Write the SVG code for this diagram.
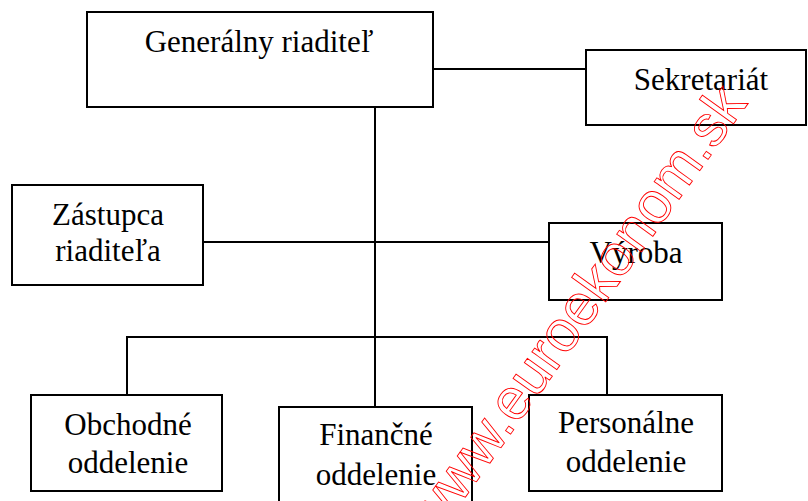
<svg xmlns="http://www.w3.org/2000/svg" width="808" height="501" viewBox="0 0 808 501">
<style>
.box{fill:#fff;stroke:#000;stroke-width:2}
.lbl{font-family:"Liberation Serif","Times New Roman",serif;font-size:31px;fill:#000;text-anchor:middle}
.ln{stroke:#000;stroke-width:2;fill:none}
.wm{font-family:"Liberation Sans",Arial,sans-serif;font-size:58px;fill:none;stroke:#f00;stroke-width:0.9}
</style>
<rect width="808" height="501" fill="#fff"/>
<g id="connectors">
<line class="ln" x1="433" y1="69" x2="586" y2="69"/>
<line class="ln" x1="375" y1="107" x2="375" y2="407"/>
<line class="ln" x1="203" y1="242" x2="549" y2="242"/>
<polyline class="ln" points="127,395 127,337 607,337 607,395"/>
</g>
<g id="generalny">
<rect class="box" x="87" y="12" width="346" height="95"/>
<text class="lbl" x="259" y="52">Generálny riaditeľ</text>
</g>
<g id="sekretariat">
<rect class="box" x="586" y="50" width="220" height="75"/>
<text class="lbl" x="701" y="90">Sekretariát</text>
</g>
<g id="zastupca">
<rect class="box" x="12" y="185" width="191" height="100"/>
<text class="lbl" x="108" y="225">Zástupca</text>
<text class="lbl" x="108" y="261">riaditeľa</text>
</g>
<g id="vyroba">
<rect class="box" x="549" y="223" width="173" height="77"/>
<text class="lbl" x="636" y="263">Výroba</text>
</g>
<g id="obchodne">
<rect class="box" x="31" y="395" width="191" height="96"/>
<text class="lbl" x="128" y="435">Obchodné</text>
<text class="lbl" x="128" y="473">oddelenie</text>
</g>
<g id="financne">
<rect class="box" x="279" y="407" width="193" height="100"/>
<text class="lbl" x="376" y="445">Finančné</text>
<text class="lbl" x="376" y="485">oddelenie</text>
</g>
<g id="personalne">
<rect class="box" x="529" y="395" width="193" height="96"/>
<text class="lbl" x="626" y="433">Personálne</text>
<text class="lbl" x="626" y="472">oddelenie</text>
</g>
<g id="watermark">
<text class="wm" transform="translate(436,538) rotate(-54.3)">www.euroekonom.sk</text>
</g>
</svg>
